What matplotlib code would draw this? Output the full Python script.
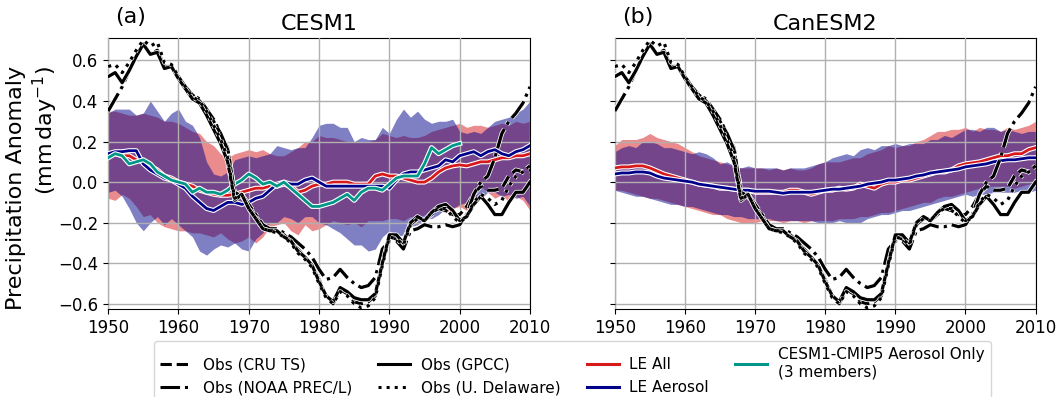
import numpy as np
import matplotlib
matplotlib.use('Agg')
import matplotlib.pyplot as plt
import matplotlib.patheffects as pe
from matplotlib.lines import Line2D

years = np.arange(1950, 2011)

# observations (same in both panels)
obs_cru = [0.52, 0.54, 0.49, 0.55, 0.62, 0.68, 0.63, 0.65, 0.57, 0.57,
           0.52, 0.47, 0.43, 0.40, 0.36, 0.30, 0.24, 0.17, -0.05, -0.07,
           -0.12, -0.17, -0.22, -0.24, -0.24, -0.26, -0.29, -0.33, -0.37, -0.41,
           -0.48, -0.56, -0.60, -0.53, -0.55, -0.59, -0.60, -0.59, -0.56, -0.40,
           -0.27, -0.28, -0.29, -0.21, -0.18, -0.19, -0.16, -0.13, -0.14, -0.16,
           -0.16, -0.12, -0.06, -0.02, -0.04, -0.04, -0.03, 0.03, 0.06, 0.05,
           0.08]
obs_gpcc = [0.52, 0.54, 0.49, 0.55, 0.62, 0.68, 0.63, 0.64, 0.56, 0.57,
            0.51, 0.46, 0.41, 0.39, 0.33, 0.26, 0.19, 0.10, -0.09, -0.06,
            -0.13, -0.18, -0.23, -0.24, -0.24, -0.27, -0.29, -0.34, -0.37, -0.41,
            -0.49, -0.56, -0.59, -0.52, -0.54, -0.57, -0.58, -0.58, -0.55, -0.40,
            -0.26, -0.26, -0.30, -0.20, -0.17, -0.19, -0.15, -0.12, -0.11, -0.14,
            -0.19, -0.17, -0.11, -0.07, -0.11, -0.16, -0.16, -0.10, -0.05, -0.05,
            0.00]
obs_noaa = [0.35, 0.41, 0.47, 0.55, 0.62, 0.68, 0.63, 0.65, 0.57, 0.57,
            0.52, 0.47, 0.43, 0.41, 0.36, 0.31, 0.24, 0.16, -0.05, -0.06,
            -0.11, -0.16, -0.21, -0.23, -0.23, -0.25, -0.27, -0.30, -0.33, -0.37,
            -0.43, -0.48, -0.47, -0.43, -0.47, -0.50, -0.52, -0.51, -0.47, -0.33,
            -0.29, -0.29, -0.33, -0.24, -0.23, -0.21, -0.22, -0.22, -0.21, -0.22,
            -0.21, -0.16, -0.06, 0.00, 0.03, 0.12, 0.24, 0.30, 0.34, 0.39,
            0.47]
obs_udel = [0.57, 0.58, 0.54, 0.59, 0.65, 0.70, 0.67, 0.69, 0.59, 0.58,
            0.52, 0.47, 0.42, 0.40, 0.35, 0.28, 0.21, 0.12, -0.08, -0.06,
            -0.13, -0.18, -0.23, -0.24, -0.25, -0.27, -0.30, -0.35, -0.38, -0.42,
            -0.50, -0.57, -0.60, -0.54, -0.56, -0.60, -0.62, -0.61, -0.57, -0.41,
            -0.27, -0.28, -0.31, -0.21, -0.18, -0.19, -0.15, -0.13, -0.13, -0.17,
            -0.20, -0.17, -0.10, -0.06, -0.08, -0.11, -0.09, -0.02, 0.03, 0.05,
            0.06]

# CESM1
cesm_all = [0.13, 0.14, 0.13, 0.13, 0.11, 0.10, 0.08, 0.06, 0.03, 0.02,
            0.00, -0.01, -0.02, -0.04, -0.05, -0.06, -0.065, -0.065, -0.06, -0.05,
            -0.04, -0.03, -0.03, -0.02, -0.02, -0.01, -0.02, -0.05, -0.04, -0.02,
            -0.01, -0.01, 0.00, 0.00, 0.00, -0.01, -0.01, -0.01, 0.03, 0.04,
            0.03, 0.03, 0.02, 0.01, 0.00, 0.00, 0.02, 0.05, 0.07, 0.08,
            0.085, 0.08, 0.09, 0.10, 0.10, 0.11, 0.12, 0.12, 0.13, 0.13,
            0.14]
cesm_all_lo = [-0.08, -0.09, -0.06, -0.08, -0.12, -0.17, -0.16, -0.20, -0.22, -0.23,
               -0.24, -0.24, -0.25, -0.25, -0.26, -0.27, -0.25, -0.28, -0.30, -0.29,
               -0.27, -0.30, -0.27, -0.22, -0.21, -0.20, -0.24, -0.26, -0.21, -0.24,
               -0.23, -0.21, -0.19, -0.20, -0.21, -0.20, -0.22, -0.19, -0.19, -0.19,
               -0.18, -0.18, -0.19, -0.17, -0.18, -0.16, -0.15, -0.14, -0.15, -0.13,
               -0.12, -0.14, -0.09, -0.02, -0.05, -0.08, -0.06, -0.10, -0.07, -0.09,
               -0.14]
cesm_all_hi = [0.35, 0.35, 0.34, 0.33, 0.33, 0.34, 0.33, 0.32, 0.30, 0.30,
               0.29, 0.27, 0.25, 0.24, 0.20, 0.18, 0.14, 0.12, 0.14, 0.15,
               0.16, 0.15, 0.16, 0.14, 0.13, 0.13, 0.15, 0.17, 0.20, 0.20,
               0.23, 0.22, 0.22, 0.21, 0.20, 0.20, 0.20, 0.20, 0.21, 0.24,
               0.23, 0.22, 0.23, 0.22, 0.22, 0.23, 0.25, 0.26, 0.27, 0.28,
               0.29, 0.27, 0.28, 0.28, 0.27, 0.28, 0.29, 0.28, 0.30, 0.29,
               0.30]
cesm_aer = [0.14, 0.15, 0.15, 0.155, 0.155, 0.09, 0.06, 0.04, 0.02, 0.01,
            -0.01, -0.03, -0.07, -0.10, -0.13, -0.14, -0.12, -0.10, -0.10, -0.11,
            -0.10, -0.08, -0.07, -0.04, -0.01, 0.00, -0.01, -0.01, 0.01, 0.02,
            0.00, -0.02, -0.02, -0.02, -0.02, -0.02, -0.02, -0.02, -0.02, -0.02,
            -0.03, 0.01, 0.04, 0.05, 0.05, 0.06, 0.07, 0.08, 0.11, 0.10,
            0.13, 0.14, 0.15, 0.13, 0.15, 0.16, 0.14, 0.13, 0.15, 0.16,
            0.18]
cesm_aer_lo = [-0.05, -0.04, -0.07, -0.13, -0.20, -0.24, -0.20, -0.17, -0.21, -0.18,
               -0.21, -0.24, -0.27, -0.34, -0.36, -0.33, -0.31, -0.32, -0.30, -0.33,
               -0.34, -0.28, -0.25, -0.20, -0.20, -0.17, -0.18, -0.20, -0.17, -0.17,
               -0.20, -0.21, -0.23, -0.25, -0.28, -0.31, -0.31, -0.34, -0.33, -0.27,
               -0.24, -0.27, -0.26, -0.22, -0.21, -0.18, -0.18, -0.16, -0.13, -0.13,
               -0.11, -0.10, -0.08, -0.08, -0.05, -0.05, -0.07, -0.06, -0.08, -0.07,
               -0.12]
cesm_aer_hi = [0.34, 0.36, 0.36, 0.36, 0.33, 0.34, 0.40, 0.35, 0.30, 0.34,
               0.36, 0.30, 0.28, 0.22, 0.10, 0.04, 0.03, 0.05, 0.11, 0.12,
               0.13, 0.12, 0.13, 0.14, 0.18, 0.17, 0.16, 0.17, 0.17, 0.22,
               0.28, 0.29, 0.29, 0.27, 0.27, 0.20, 0.22, 0.21, 0.21, 0.27,
               0.24, 0.31, 0.36, 0.32, 0.35, 0.31, 0.29, 0.30, 0.30, 0.31,
               0.25, 0.24, 0.25, 0.24, 0.27, 0.30, 0.31, 0.32, 0.34, 0.36,
               0.40]
years_cmip5 = np.arange(1950, 2001)
cmip5_aer = [0.12, 0.14, 0.13, 0.09, 0.10, 0.11, 0.09, 0.05, 0.03, 0.01,
             0.00, -0.01, -0.05, -0.03, -0.05, -0.05, -0.06, -0.04, -0.01, 0.01,
             0.04, 0.02, -0.01, 0.00, -0.02, 0.00, -0.03, -0.06, -0.09, -0.12,
             -0.12, -0.11, -0.10, -0.08, -0.06, -0.09, -0.05, -0.03, -0.03, -0.04,
             -0.01, 0.02, 0.03, 0.03, 0.03, 0.09, 0.17, 0.14, 0.16, 0.18,
             0.19]

# CanESM2
can_all = [0.07, 0.075, 0.075, 0.08, 0.08, 0.07, 0.055, 0.04, 0.03, 0.02,
           0.01, 0.00, -0.01, -0.015, -0.02, -0.03, -0.03, -0.035, -0.04, -0.04,
           -0.05, -0.05, -0.05, -0.05, -0.05, -0.04, -0.04, -0.05, -0.06, -0.05,
           -0.04, -0.04, -0.03, -0.035, -0.03, -0.01, -0.02, -0.03, -0.01, 0.00,
           0.00, 0.01, 0.01, 0.02, 0.03, 0.04, 0.05, 0.05, 0.06, 0.08,
           0.09, 0.095, 0.10, 0.11, 0.12, 0.13, 0.13, 0.14, 0.14, 0.16,
           0.17]
can_all_lo = [-0.04, -0.04, -0.05, -0.06, -0.07, -0.08, -0.08, -0.09, -0.10, -0.11,
              -0.12, -0.13, -0.14, -0.15, -0.16, -0.16, -0.18, -0.19, -0.20, -0.20,
              -0.20, -0.19, -0.19, -0.19, -0.20, -0.19, -0.19, -0.20, -0.19, -0.19,
              -0.19, -0.19, -0.18, -0.18, -0.18, -0.17, -0.17, -0.16, -0.15, -0.15,
              -0.14, -0.13, -0.12, -0.11, -0.10, -0.10, -0.08, -0.07, -0.07, -0.06,
              -0.05, -0.04, -0.03, -0.02, -0.02, -0.02, -0.02, -0.03, -0.02, -0.01,
              0.00]
can_all_hi = [0.18, 0.21, 0.21, 0.21, 0.22, 0.24, 0.22, 0.21, 0.20, 0.19,
              0.17, 0.15, 0.13, 0.12, 0.11, 0.10, 0.09, 0.08, 0.07, 0.07,
              0.07, 0.07, 0.06, 0.07, 0.06, 0.07, 0.06, 0.06, 0.07, 0.09,
              0.10, 0.10, 0.10, 0.11, 0.12, 0.12, 0.14, 0.15, 0.16, 0.18,
              0.17, 0.18, 0.18, 0.20, 0.21, 0.23, 0.25, 0.25, 0.26, 0.26,
              0.27, 0.25, 0.27, 0.26, 0.26, 0.25, 0.27, 0.26, 0.27, 0.28,
              0.30]
can_aer = [0.04, 0.045, 0.045, 0.05, 0.05, 0.045, 0.03, 0.02, 0.015, 0.01,
           0.005, 0.00, -0.01, -0.015, -0.02, -0.025, -0.03, -0.035, -0.04, -0.04,
           -0.045, -0.045, -0.045, -0.05, -0.055, -0.05, -0.05, -0.05, -0.05, -0.045,
           -0.04, -0.035, -0.035, -0.03, -0.025, -0.02, -0.01, -0.005, 0.00, 0.01,
           0.01, 0.015, 0.02, 0.03, 0.035, 0.045, 0.05, 0.055, 0.06, 0.065,
           0.075, 0.08, 0.085, 0.09, 0.10, 0.105, 0.11, 0.11, 0.115, 0.12,
           0.12]
can_aer_lo = [-0.04, -0.05, -0.06, -0.07, -0.07, -0.08, -0.09, -0.10, -0.11, -0.11,
              -0.12, -0.12, -0.13, -0.14, -0.15, -0.16, -0.16, -0.17, -0.17, -0.18,
              -0.18, -0.18, -0.18, -0.19, -0.19, -0.19, -0.19, -0.19, -0.19, -0.20,
              -0.20, -0.20, -0.19, -0.20, -0.20, -0.20, -0.18, -0.17, -0.16, -0.16,
              -0.15, -0.14, -0.14, -0.13, -0.12, -0.11, -0.10, -0.09, -0.08, -0.07,
              -0.06, -0.07, -0.06, -0.06, -0.05, -0.05, -0.05, -0.05, -0.04, -0.05,
              -0.04]
can_aer_hi = [0.15, 0.17, 0.18, 0.17, 0.20, 0.20, 0.19, 0.17, 0.17, 0.16,
              0.15, 0.14, 0.15, 0.14, 0.12, 0.09, 0.10, 0.08, 0.07, 0.08,
              0.07, 0.07, 0.07, 0.07, 0.06, 0.07, 0.07, 0.07, 0.08, 0.09,
              0.10, 0.12, 0.13, 0.14, 0.13, 0.16, 0.17, 0.16, 0.18, 0.18,
              0.19, 0.18, 0.19, 0.19, 0.19, 0.21, 0.21, 0.23, 0.22, 0.24,
              0.26, 0.26, 0.25, 0.27, 0.27, 0.25, 0.26, 0.25, 0.24, 0.25,
              0.25]

red = '#d7191c'
blue = '#00008b'
teal = '#009688'

outline = [pe.Stroke(linewidth=3.6, foreground='white'), pe.Normal()]
obs_outline = [pe.Stroke(linewidth=3.4, foreground='white'), pe.Normal()]

fig = plt.figure(figsize=(10.6, 3.97), dpi=100)
ax1 = fig.add_axes([0.102, 0.222, 0.398, 0.682])
ax2 = fig.add_axes([0.580, 0.222, 0.397, 0.682])


def draw_panel(ax, m_all, all_lo, all_hi, m_aer, aer_lo, aer_hi):
    ax.fill_between(years, all_lo, all_hi, color=red, alpha=0.5, lw=0, zorder=1)
    ax.fill_between(years, aer_lo, aer_hi, color=blue, alpha=0.5, lw=0, zorder=1)
    ax.plot(years, m_all, color=red, lw=2, zorder=3, path_effects=outline)
    ax.plot(years, m_aer, color=blue, lw=2, zorder=3, path_effects=outline)
    ax.plot(years, obs_cru, color='k', ls='--', lw=2.3, zorder=4, path_effects=obs_outline)
    ax.plot(years, obs_noaa, color='k', ls='-.', lw=2.3, zorder=4, path_effects=obs_outline)
    ax.plot(years, obs_gpcc, color='k', ls='-', lw=2.3, zorder=4, path_effects=obs_outline)
    ax.plot(years, obs_udel, color='k', ls=':', lw=2.3, zorder=4, path_effects=obs_outline)
    ax.set_xlim(1950, 2010)
    ax.set_ylim(-0.625, 0.71)
    ax.set_xticks(np.arange(1950, 2011, 10))
    ax.set_yticks(np.arange(-0.6, 0.61, 0.2))
    ax.set_axisbelow(False)
    ax.grid(True, color='#b0b0b0', lw=1)
    ax.tick_params(labelsize=12)


draw_panel(ax1, cesm_all, cesm_all_lo, cesm_all_hi, cesm_aer, cesm_aer_lo, cesm_aer_hi)
ax1.plot(years_cmip5, cmip5_aer, color=teal, lw=2, zorder=3, path_effects=outline)
draw_panel(ax2, can_all, can_all_lo, can_all_hi, can_aer, can_aer_lo, can_aer_hi)
ax2.set_yticklabels([])

ax1.set_title('CESM1', fontsize=16)
ax2.set_title('CanESM2', fontsize=16)
ax1.text(0.017, 1.04, '(a)', transform=ax1.transAxes, fontsize=16, va='bottom')
ax2.text(0.017, 1.04, '(b)', transform=ax2.transAxes, fontsize=16, va='bottom')

ylab = ax1.set_ylabel('Precipitation Anomaly\n(mm$\\,$day$^{-1}$)', fontsize=16)
ylab.set_multialignment('right')
ax1.yaxis.set_label_coords(-0.114, 0.445)

# legend
handles = [Line2D([], [], color='k', ls='--', lw=2.2),
           Line2D([], [], color='k', ls='-.', lw=2.2),
           Line2D([], [], color='k', ls='-', lw=2.2),
           Line2D([], [], color='k', ls=':', lw=2.2),
           Line2D([], [], color=red, lw=2.2),
           Line2D([], [], color=blue, lw=2.2),
           Line2D([], [], color=teal, lw=2.2)]
labels = ['Obs (CRU TS)', 'Obs (NOAA PREC/L)', 'Obs (GPCC)', 'Obs (U. Delaware)',
          'LE All', 'LE Aerosol', 'CESM1-CMIP5 Aerosol Only\n(3 members)']
fig.legend(handles, labels, loc='upper center', bbox_to_anchor=(0.54, 0.16),
           ncol=4, fontsize=11, handlelength=2.1, columnspacing=1.7,
           handletextpad=0.7, labelspacing=0.5)

fig.savefig('out.png', dpi=100)
